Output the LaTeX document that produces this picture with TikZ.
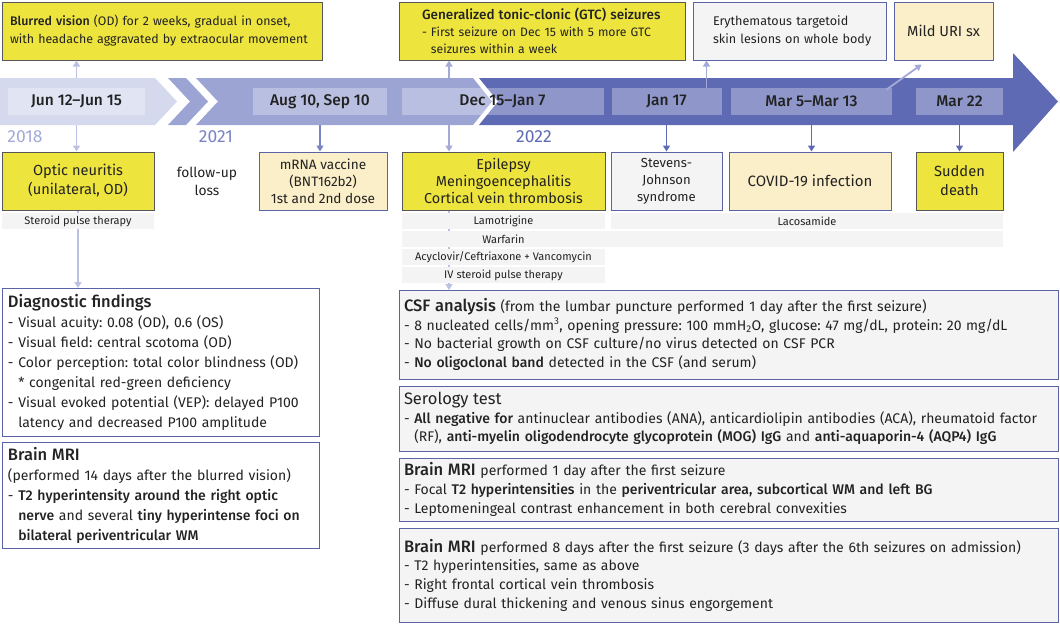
\documentclass[tikz,border=0pt]{standalone}
\usepackage{fontspec}
\setmainfont{Fira Sans}[BoldFont={Fira Sans Medium}]
\usetikzlibrary{arrows.meta}
\frenchspacing
\hyphenpenalty=10000
\exhyphenpenalty=10000
\definecolor{yel}{HTML}{EEE43E}
\definecolor{ydraw}{HTML}{55575A}
\definecolor{bdraw}{HTML}{5A63A6}
\definecolor{lgray}{HTML}{F4F4F4}
\definecolor{peach}{HTML}{FBEFC9}
\definecolor{segA}{HTML}{D5D9EE}
\definecolor{segB}{HTML}{9CA4D4}
\definecolor{segC}{HTML}{5E6AB4}
\definecolor{arrA}{HTML}{BBC1E3}
\definecolor{arrB}{HTML}{A3AAD8}
\definecolor{arrM}{HTML}{7A83C3}
\definecolor{arrC}{HTML}{5E6AB4}
\definecolor{txt}{HTML}{222222}
\tikzset{
  box/.style={rectangle, inner sep=0pt, line width=1pt, text=txt},
  ybox/.style={box, fill=yel, draw=ydraw},
  gbox/.style={box, fill=lgray, draw=bdraw},
  pbox/.style={box, fill=peach, draw=bdraw},
  wbox/.style={box, fill=white, draw=bdraw},
  medbar/.style={rectangle, inner sep=0pt, fill=lgray, text=txt, font=\fontsize{11}{13}\selectfont},
  medtext/.style={inner sep=0pt, text=txt, font=\fontsize{11}{13}\selectfont},
  lab/.style={rectangle, inner sep=0pt, fill=white, fill opacity=0.3, text opacity=1, text=txt, minimum height=27pt, font=\bfseries\fontsize{15.5}{17}\selectfont},
  yr/.style={font=\fontsize{17.5}{19}\selectfont, inner sep=0pt},
  rbox/.style={gbox, minimum width=659pt, text width=649pt, align=left, font=\fontsize{14}{18.7}\selectfont},
  conn/.style={line width=1.8pt, -{Triangle[width=7pt,length=6pt]}},
}
\newcommand{\rtitle}[1]{{\fontsize{16.5}{18.7}\selectfont\bfseries #1}}
\newcommand{\ltitle}[1]{{\fontsize{16.5}{20}\selectfont\bfseries #1}}
\begin{document}
\begin{tikzpicture}[x=1pt,y=-1pt]
\useasboundingbox (0,0) rectangle (1060,627);
\coordinate (bandtop) at (0,78);
\coordinate (bandbot) at (0,125);
% timeline band
\fill[segA] (0,78) -- (155,78) -- (177,101.5) -- (155,125) -- (0,125) -- cycle;
\fill[segB] (168,78) -- (186,78) -- (208,101.5) -- (186,125) -- (168,125) -- (190,101.5) -- cycle;
\fill[segB] (196,78) -- (473,78) -- (492,101.5) -- (473,125) -- (196,125) -- (218,101.5) -- cycle;
\fill[segC] (479,78) -- (1013,78) -- (1013,53) -- (1058,101.5) -- (1013,152) -- (1013,125) -- (479,125) -- (498,101.5) -- cycle;

% top boxes
\node[ybox, minimum width=320pt, minimum height=58pt, text width=304pt, align=left,
  font=\fontsize{12.4}{18}\selectfont] (blur) at (162,31)
  {\textbf{Blurred vision} (OD) for 2 weeks, gradual in onset,\\with headache aggravated by extraocular movement};
\node[ybox, minimum width=286pt, minimum height=58pt, text width=240pt, align=left,
  font=\fontsize{12.2}{17}\selectfont] (gtc) at (542,31)
  {{\fontsize{13.5}{17}\selectfont\bfseries Generalized tonic-clonic (GTC) seizures}\\- First seizure on Dec 15 with 5 more GTC\\\hphantom{- }seizures within a week};
\node[gbox, minimum width=193pt, minimum height=58pt, text width=175pt, align=left,
  font=\fontsize{12.6}{18}\selectfont] (ery) at (789.5,31)
  {\hspace*{11pt}Erythematous targetoid\\\hspace*{11pt}skin lesions on whole body};
\node[pbox, minimum width=99pt, minimum height=58pt, align=center,
  font=\fontsize{14.6}{18}\selectfont] (uri) at (943.5,31) {Mild URI sx};

% labels on band
\node[lab, minimum width=137pt] (jun) at (76.5,101.5) {Jun 12--Jun 15};
\node[lab, minimum width=134pt] (aug) at (320,101.5) {Aug 10, Sep 10};
\node[lab, minimum width=202pt] (dec) at (502.5,101.5) {Dec 15--Jan 7};
\node[lab, minimum width=110pt] (jan) at (666.5,101.5) {Jan 17};
\node[lab, minimum width=161pt] (mar5) at (811.5,101.5) {Mar 5--Mar 13};
\node[lab, minimum width=87pt] (mar22) at (959.5,101.5) {Mar 22};

% years
\node[yr, text=arrB] (y18) at (25,137) {2018};
\node[yr, text=arrM] (y21) at (216,137) {2021};
\node[yr, text=segC] (y22) at (534,137) {2022};

% event boxes
\node[ybox, minimum width=152pt, minimum height=58pt, align=center,
  font=\fontsize{14.6}{19}\selectfont] (optic) at (78,181) {Optic neuritis\\(unilateral, OD)};
\node[box, align=center, font=\fontsize{13.8}{18}\selectfont] (loss) at (207,181) {follow-up\\loss};
\node[pbox, minimum width=128pt, minimum height=58pt, align=center,
  font=\fontsize{13.6}{17}\selectfont] (mrna) at (323,181) {mRNA vaccine\\(BNT162b2)\\1st and 2nd dose};

% connectors running behind the treatment bars
\draw[conn, arrA] (optic.south) -- (optic.south |- 0,288);
\draw[conn, arrA] ([xshift=-53.5pt]dec.south |- 0,210) -- ([xshift=-53.5pt]dec.south |- 0,290);

\node[ybox, minimum width=203pt, minimum height=58pt, align=center,
  font=\fontsize{14.4}{17}\selectfont] (epi) at (503.5,181) {Epilepsy\\Meningoencephalitis\\Cortical vein thrombosis};
\node[gbox, minimum width=111pt, minimum height=58pt, align=center,
  font=\fontsize{13.1}{17}\selectfont] (sjs) at (666.5,181) {Stevens-\\Johnson\\syndrome};
\node[pbox, minimum width=162pt, minimum height=58pt, align=center,
  font=\fontsize{15}{19}\selectfont] (covid) at (810,181) {COVID-19 infection};
\node[ybox, minimum width=87pt, minimum height=58pt, align=center,
  font=\fontsize{14.7}{19}\selectfont] (death) at (959.5,181) {Sudden\\death};

% treatment bars
\node[medbar, minimum width=152pt, minimum height=16pt] (ster) at (78,221) {Steroid pulse therapy};
\node[medbar, minimum width=203pt, minimum height=16pt] (lamo) at (503.5,221) {Lamotrigine};
\node[medbar, minimum width=392pt, minimum height=16pt] (laco) at (807,221) {Lacosamide};
\node[medbar, minimum width=601pt, minimum height=16pt] (warf) at (702.5,239) {};
\node[medtext] (warftxt) at (lamo.center |- warf.center) {Warfarin};
\node[medbar, minimum width=203pt, minimum height=16pt] (acy) at (503.5,257) {Acyclovir/Ceftriaxone + Vancomycin};
\node[medbar, minimum width=203pt, minimum height=16pt] (ivs) at (503.5,275) {IV steroid pulse therapy};

% timeline connectors
\draw[conn, arrA] (jun.north |- bandtop) -- (jun.north |- blur.south);
\draw[conn, arrA] (jun.south |- bandbot) -- (jun.south |- optic.north);
\draw[conn, arrM] (aug.south |- bandbot) -- (aug.south |- mrna.north);
\draw[conn, arrB] ([xshift=-53.5pt]dec.north |- bandtop) -- ([xshift=-53.5pt]dec.north |- gtc.south);
\draw[conn, arrB] ([xshift=-53.5pt]dec.south |- bandbot) -- ([xshift=-53.5pt]dec.south |- epi.north);
\draw[conn, arrB] ([xshift=40pt]jan.north) -- ([xshift=40pt]jan.north |- ery.south);
\draw[conn, arrC] (jan.south |- bandbot) -- (jan.south |- sjs.north);
\draw[conn, arrC] (mar5.south |- bandbot) -- (mar5.south |- covid.north);
\draw[conn, arrC] (mar22.south |- bandbot) -- (mar22.south |- death.north);
\draw[conn, arrB] ([xshift=-6pt,yshift=-2pt]mar5.north east) -- ([xshift=28pt,yshift=-4pt]uri.south west);

% left findings
\node[wbox, minimum width=317pt, minimum height=148pt, text width=305pt, align=left,
  font=\fontsize{14}{20}\selectfont] (diag) at (160.5,362)
  {\ltitle{Diagnostic findings}\\
   - Visual acuity: 0.08 (OD), 0.6 (OS)\\
   - Visual field: central scotoma (OD)\\
   - Color perception: total color blindness (OD)\\
   \hphantom{- }* congenital red-green deficiency\\
   - Visual evoked potential (VEP): delayed P100\\
   \hphantom{- }latency and decreased P100 amplitude};
\node[wbox, minimum width=317pt, minimum height=106pt, text width=305pt, align=left,
  font=\fontsize{14}{20}\selectfont] (mri0) at (160.5,495)
  {\ltitle{Brain MRI}\\
   (performed 14 days after the blurred vision)\\
   - \textbf{T2 hyperintensity around the right optic}\\
   \hphantom{- }\textbf{nerve} and several \textbf{tiny hyperintense foci on}\\
   \hphantom{- }\textbf{bilateral periventricular WM}};

% right findings
\node[rbox, minimum height=89pt] (csf) at (728.5,334.5)
  {\rtitle{CSF analysis} (from the lumbar puncture performed 1 day after the first seizure)\\
   - 8 nucleated cells/mm\textsuperscript{3}, opening pressure: 100 mmH\textsubscript{2}O, glucose: 47 mg/dL, protein: 20 mg/dL\\
   - No bacterial growth on CSF culture/no virus detected on CSF PCR\\
   - \textbf{No oligoclonal band} detected in the CSF (and serum)};
\node[rbox, minimum height=65pt] (sero) at (728.5,418.5)
  {{\fontsize{16.5}{18.7}\selectfont Serology test}\\
   - \textbf{All negative for} antinuclear antibodies (ANA), anticardiolipin antibodies (ACA), rheumatoid factor\\
   \hphantom{- }(RF), \textbf{anti-myelin oligodendrocyte glycoprotein (MOG) IgG} and \textbf{anti-aquaporin-4 (AQP4) IgG}};
\node[rbox, minimum height=63pt] (mri1) at (728.5,489.5)
  {\rtitle{Brain MRI} performed 1 day after the first seizure\\
   - Focal \textbf{T2 hyperintensities} in the \textbf{periventricular area, subcortical WM and left BG}\\
   - Leptomeningeal contrast enhancement in both cerebral convexities};
\node[rbox, minimum height=94pt] (mri2) at (728.5,575)
  {\rtitle{Brain MRI} performed 8 days after the first seizure (3 days after the 6th seizures on admission)\\
   - T2 hyperintensities, same as above\\
   - Right frontal cortical vein thrombosis\\
   - Diffuse dural thickening and venous sinus engorgement};
\end{tikzpicture}
\end{document}
